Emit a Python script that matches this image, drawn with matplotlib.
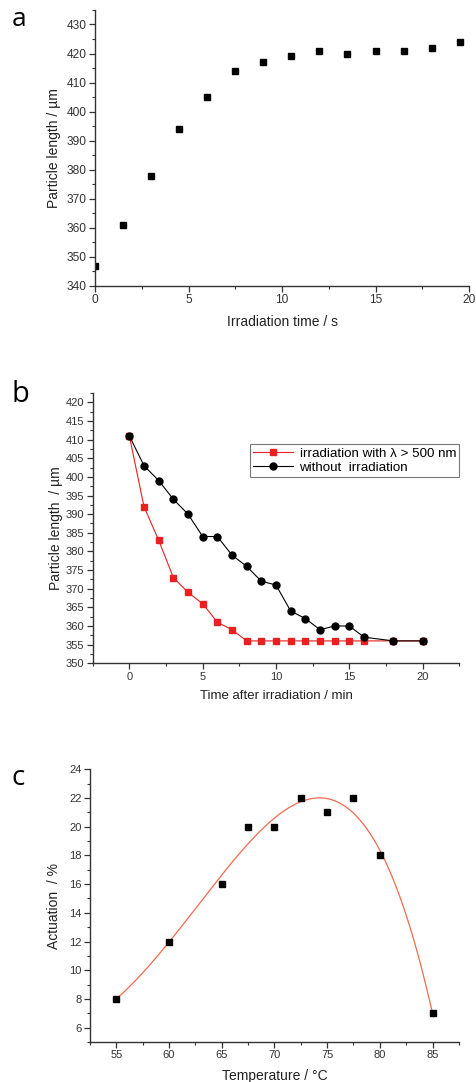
import numpy as np
import matplotlib
matplotlib.use("Agg")
import matplotlib.pyplot as plt
from matplotlib.ticker import MultipleLocator

# ---- data ----
a_time = [0, 1.5, 3, 4.5, 6, 7.5, 9, 10.5, 12, 13.5, 15, 16.5, 18, 19.5]
a_length = [347, 361, 378, 394, 405, 414, 417, 419, 421, 420, 421, 421, 422, 424]

b_time_red = [0, 1, 2, 3, 4, 5, 6, 7, 8, 9, 10, 11, 12, 13, 14, 15, 16, 18, 20]
b_len_red = [411, 392, 383, 373, 369, 366, 361, 359, 356, 356, 356, 356, 356, 356, 356, 356, 356, 356, 356]
b_time_black = [0, 1, 2, 3, 4, 5, 6, 7, 8, 9, 10, 11, 12, 13, 14, 15, 16, 18, 20]
b_len_black = [411, 403, 399, 394, 390, 384, 384, 379, 376, 372, 371, 364, 362, 359, 360, 360, 357, 356, 356]
b_labels = ["irradiation with \u03bb > 500 nm", "without  irradiation"]

c_temp = [55, 60, 65, 67.5, 70, 72.5, 75, 77.5, 80, 85]
c_act = [8, 12, 16, 20, 20, 22, 21, 22, 18, 7]

plt.rcParams['font.family'] = ['Liberation Sans', 'DejaVu Sans']
plt.rcParams['axes.linewidth'] = 1.0
tick_color = '#333333'

fig = plt.figure(figsize=(4.76, 10.82), dpi=100)


def style(ax, labelsize):
    ax.spines['top'].set_visible(False)
    ax.spines['right'].set_visible(False)
    for s in ('left', 'bottom'):
        ax.spines[s].set_color('#333333')
    ax.tick_params(which='major', direction='out', length=4, width=0.9,
                   labelsize=labelsize, colors=tick_color, pad=2)
    ax.tick_params(which='minor', direction='out', length=2.5, width=0.8,
                   colors=tick_color)


# ---- panel a ----
axa = fig.add_axes([0.1996, 0.7357, 0.7857, 0.2551])
axa.plot(a_time, a_length, 's', color='black', markersize=5, linestyle='none')
axa.set_xlim(0, 20)
axa.set_ylim(340, 435)
axa.xaxis.set_major_locator(MultipleLocator(5))
axa.xaxis.set_minor_locator(MultipleLocator(2.5))
axa.set_yticks(np.arange(340, 431, 10))
axa.yaxis.set_minor_locator(MultipleLocator(5))
style(axa, 8.6)
axa.set_xlabel('Irradiation time / s', fontsize=10, color='#222222', labelpad=6)
axa.set_ylabel('Particle length / \u00b5m', fontsize=10, color='#222222', labelpad=4)
fig.text(0.025, 0.982, 'a', fontsize=19, family=['Open Sans', 'DejaVu Sans'],
         va='center', ha='left')

# ---- panel b ----
axb = fig.add_axes([0.1947, 0.387, 0.7703, 0.2498])
axb.plot(b_time_red, b_len_red, '-s', color='#e8201f', markersize=4.5,
         linewidth=0.8, label=b_labels[0])
axb.plot(b_time_black, b_len_black, '-o', color='black', markersize=5,
         linewidth=0.8, label=b_labels[1])
axb.set_xlim(-2.5, 22.5)
axb.set_ylim(350, 422.5)
axb.xaxis.set_major_locator(MultipleLocator(5))
axb.xaxis.set_minor_locator(MultipleLocator(2.5))
axb.set_yticks(np.arange(350, 421, 5))
axb.yaxis.set_minor_locator(MultipleLocator(2.5))
style(axb, 8)
axb.set_xlabel('Time after irradiation / min', fontsize=9.5, color='#222222', labelpad=6)
axb.set_ylabel('Particle length  / \u00b5m', fontsize=10, color='#222222', labelpad=2)
leg = axb.legend(loc='upper right', bbox_to_anchor=(1.0, 0.811), fontsize=9.6,
                 frameon=True, fancybox=False, edgecolor='#555555',
                 handlelength=3.0, handletextpad=0.5, borderpad=0.25,
                 labelspacing=0.15, borderaxespad=0.0)
leg.get_frame().set_linewidth(0.8)
fig.text(0.025, 0.635, 'b', fontsize=21, family=['Open Sans', 'DejaVu Sans'],
         va='center', ha='left')

# ---- panel c ----
axc = fig.add_axes([0.189, 0.037, 0.775, 0.252])
coef = np.polyfit(c_temp, c_act, 4)
xf = np.linspace(min(c_temp), max(c_temp), 300)
axc.plot(xf, np.polyval(coef, xf), color='#f06a50', linewidth=0.9)
axc.plot(c_temp, c_act, 's', color='black', markersize=5, linestyle='none')
axc.set_xlim(52.5, 87.5)
axc.set_ylim(5, 24)
axc.set_xticks(np.arange(55, 86, 5))
axc.xaxis.set_minor_locator(MultipleLocator(2.5))
axc.set_yticks(np.arange(6, 25, 2))
axc.yaxis.set_minor_locator(MultipleLocator(1))
style(axc, 8)
axc.set_xlabel('Temperature / \u00b0C', fontsize=10, color='#222222', labelpad=6)
axc.set_ylabel('Actuation  / %', fontsize=10, color='#222222', labelpad=6)
fig.text(0.025, 0.281, 'c', fontsize=20, family=['Open Sans', 'DejaVu Sans'],
         va='center', ha='left')

fig.savefig('out.png', dpi=100)
